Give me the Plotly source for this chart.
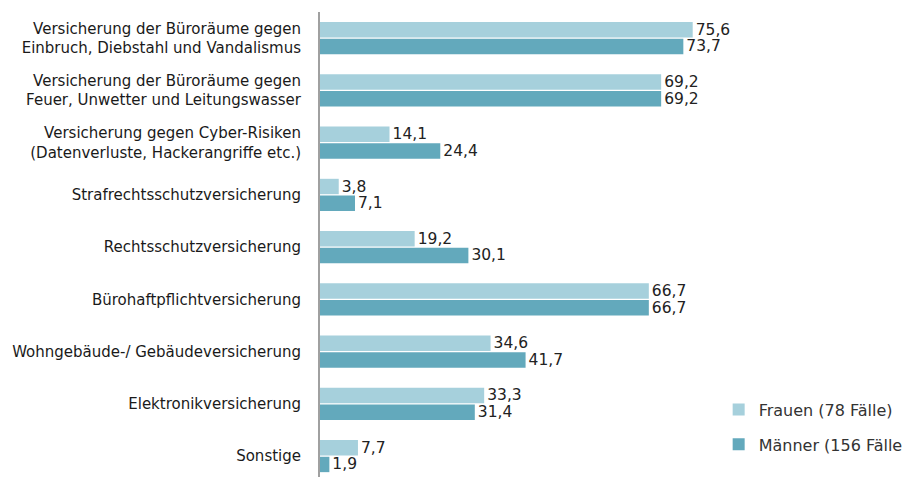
import plotly.graph_objects as go

categories = [
    "Versicherung der Büroräume gegen<br>Einbruch, Diebstahl und Vandalismus",
    "Versicherung der Büroräume gegen<br>Feuer, Unwetter und Leitungswasser",
    "Versicherung gegen Cyber-Risiken<br>(Datenverluste, Hackerangriffe etc.)",
    "Strafrechtsschutzversicherung",
    "Rechtsschutzversicherung",
    "Bürohaftpflichtversicherung",
    "Wohngebäude-/ Gebäudeversicherung",
    "Elektronikversicherung",
    "Sonstige",
]

frauen = [75.6, 69.2, 14.1, 3.8, 19.2, 66.7, 34.6, 33.3, 7.7]
maenner = [73.7, 69.2, 24.4, 7.1, 30.1, 66.7, 41.7, 31.4, 1.9]

fig = go.Figure()

fig.add_trace(
    go.Bar(
        y=categories,
        x=frauen,
        orientation="h",
        name="Frauen (78 Fälle)",
        legendgroup="f",
        marker=dict(color="#a6d0dc", line=dict(width=0)),
        texttemplate="%{x:.1f}",
        textposition="outside",
        constraintext="none",
        cliponaxis=False,
    )
)

fig.add_trace(
    go.Bar(
        y=categories,
        x=maenner,
        orientation="h",
        name="Männer (156 Fälle)",
        legendgroup="m",
        marker=dict(color="#63a9bc", line=dict(width=0)),
        texttemplate="%{x:.1f}",
        textposition="outside",
        constraintext="none",
        cliponaxis=False,
    )
)

fig.update_traces(textfont=dict(size=15.5, color="#222222"))

# the page body adds an 8px margin, so the figure is 8px smaller than the window
fig.update_layout(
    width=903,
    height=469,
    separators=",.",
    barmode="group",
    bargap=0.36,
    bargroupgap=0.08,
    plot_bgcolor="white",
    paper_bgcolor="white",
    font=dict(family="DejaVu Sans, sans-serif", size=14, color="#222222"),
    margin=dict(l=312, r=98, t=4, b=0, autoexpand=False),
    showlegend=True,
    legend=dict(
        xref="container",
        yref="container",
        x=0.787,
        y=0.18,
        xanchor="left",
        yanchor="top",
        font=dict(size=16, color="#333333"),
        tracegroupgap=11,
        itemwidth=30,
        bgcolor="rgba(0,0,0,0)",
    ),
)

fig.update_xaxes(
    range=[0, 100],
    showgrid=False,
    zeroline=False,
    showticklabels=False,
    showline=False,
)

fig.update_yaxes(
    range=[8.4, -0.5],
    automargin=False,
    showgrid=False,
    showline=True,
    linecolor="#a0a0a0",
    linewidth=2,
    ticks="",
    ticklabelstandoff=14,
    tickfont=dict(size=15, color="#1a1a1a"),
)

fig.write_html("out.html")
